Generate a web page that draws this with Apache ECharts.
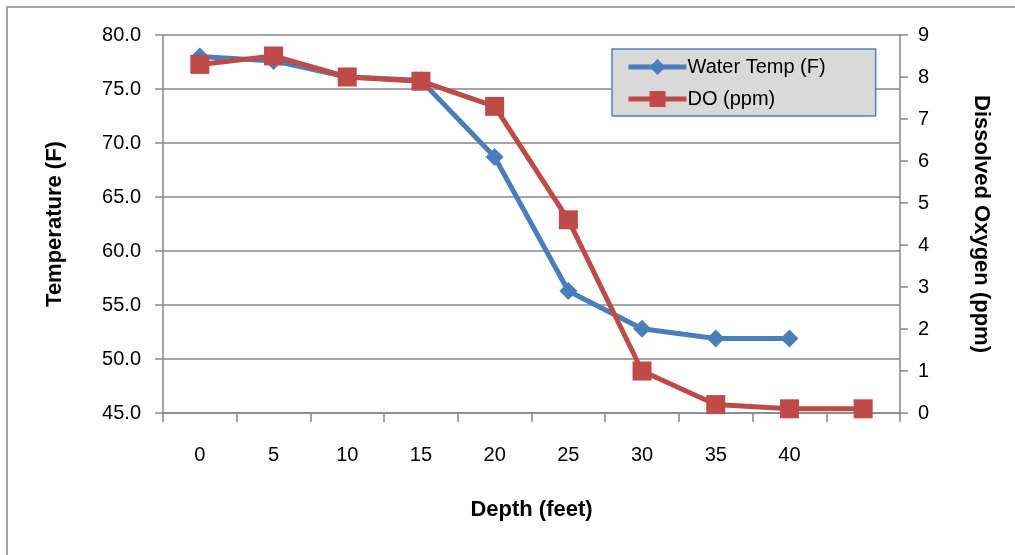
<!DOCTYPE html>
<html>
<head>
<meta charset="utf-8">
<script src="https://cdn.jsdelivr.net/npm/echarts@6/dist/echarts.min.js"></script>
<style>
  html, body { margin: 0; padding: 0; background: #fff; }
  #main { width: 1015px; height: 555px; }
</style>
</head>
<body>
<div id="main"></div>
<script>
// depth categories (last one has no label)
const depths = ['0', '5', '10', '15', '20', '25', '30', '35', '40', ''];
const waterTemp = [78.0, 77.6, 76.1, 75.8, 68.7, 56.3, 52.8, 51.9, 51.9, null];
const dissolvedO2 = [8.3, 8.5, 8.0, 7.9, 7.3, 4.6, 1.0, 0.2, 0.1, 0.1];

const fontFam = 'Liberation Sans, Arial, sans-serif';
const gray = '#868686';

const chart = echarts.init(document.getElementById('main'));

chart.setOption({
  animation: false,
  graphic: [{
    type: 'rect',
    shape: { x: 7, y: 7, width: 1030, height: 570 },
    style: { fill: 'none', stroke: gray, lineWidth: 1.5 },
    silent: true
  }],
  grid: { left: 163, right: 115, top: 35, bottom: 142 },
  legend: {
    left: 612,
    top: 49,
    orient: 'vertical',
    backgroundColor: '#d9d9d9',
    borderColor: '#4f81bd',
    borderWidth: 1.5,
    borderRadius: 0,
    padding: [8, 50, 7, 14],
    itemGap: 12,
    itemWidth: 58,
    itemHeight: 20,
    lineStyle: { width: 5 },
    textStyle: { fontFamily: fontFam, fontSize: 20, color: '#000', padding: [0, 0, 0, -4] },
    data: ['Water Temp (F)', 'DO (ppm)']
  },
  xAxis: {
    type: 'category',
    data: depths,
    boundaryGap: true,
    name: 'Depth (feet)',
    nameLocation: 'middle',
    nameGap: 86,
    nameTextStyle: { fontFamily: fontFam, fontSize: 22, fontWeight: 'bold', color: '#000' },
    axisLine: { lineStyle: { color: gray, width: 1.5 } },
    axisTick: { show: true, length: 9, interval: 0, lineStyle: { color: gray, width: 1.5 } },
    axisLabel: { margin: 32, interval: 0, fontFamily: fontFam, fontSize: 20, color: '#000' },
    splitLine: { show: false }
  },
  yAxis: [{
    type: 'value',
    min: 45,
    max: 80,
    interval: 5,
    name: 'Temperature (F)',
    nameLocation: 'middle',
    nameGap: 97,
    nameTextStyle: { fontFamily: fontFam, fontSize: 22, fontWeight: 'bold', color: '#000' },
    axisLine: { show: true, lineStyle: { color: gray, width: 1.5 } },
    axisTick: { show: true, length: 8, lineStyle: { color: gray, width: 1.5 } },
    axisLabel: {
      margin: 22, fontFamily: fontFam, fontSize: 20, color: '#000',
      formatter: v => v.toFixed(1)
    },
    splitLine: { lineStyle: { color: gray, width: 1.5 } }
  }, {
    type: 'value',
    min: 0,
    max: 9,
    interval: 1,
    position: 'right',
    name: 'Dissolved Oxygen (ppm)',
    nameLocation: 'middle',
    nameGap: 70,
    nameRotate: -90,
    nameTextStyle: { fontFamily: fontFam, fontSize: 22, fontWeight: 'bold', color: '#000' },
    axisLine: { show: true, lineStyle: { color: gray, width: 1.5 } },
    axisTick: { show: true, length: 8, lineStyle: { color: gray, width: 1.5 } },
    axisLabel: { margin: 18, fontFamily: fontFam, fontSize: 20, color: '#000' },
    splitLine: { show: false }
  }],
  series: [{
    name: 'Water Temp (F)',
    type: 'line',
    yAxisIndex: 0,
    data: waterTemp,
    symbol: 'diamond',
    symbolSize: 18,
    lineStyle: { color: '#4a7ebb', width: 5 },
    itemStyle: { color: '#4a7ebb' },
    z: 2
  }, {
    name: 'DO (ppm)',
    type: 'line',
    yAxisIndex: 1,
    data: dissolvedO2,
    symbol: 'rect',
    symbolSize: 19,
    lineStyle: { color: '#be4b48', width: 5 },
    itemStyle: { color: '#be4b48' },
    z: 3
  }]
});
</script>
</body>
</html>
